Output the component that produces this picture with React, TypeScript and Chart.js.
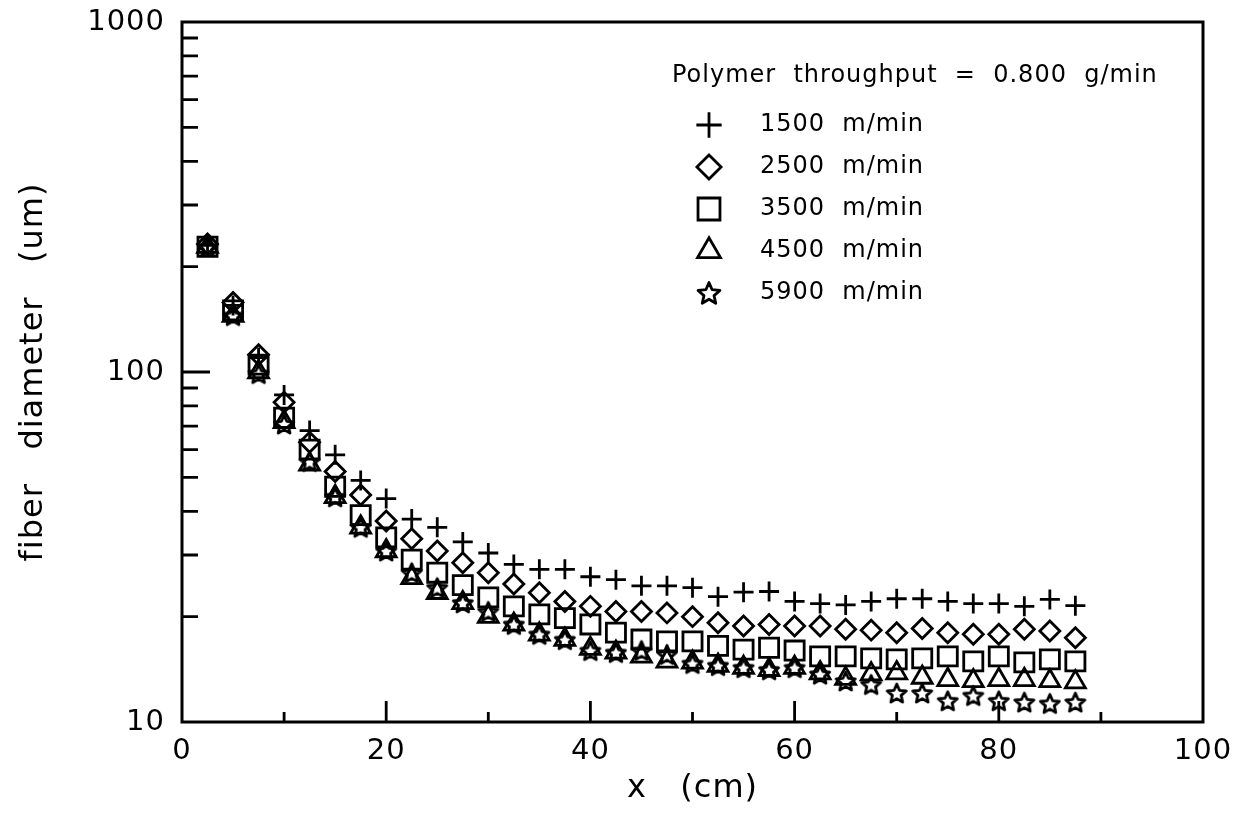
import React, { useEffect, useRef } from 'react';
import { Chart, registerables } from 'chart.js';

Chart.register(...registerables);

const xPositions = [2.5, 5, 7.5, 10, 12.5, 15, 17.5, 20, 22.5, 25, 27.5, 30, 32.5, 35, 37.5, 40, 42.5, 45, 47.5, 50, 52.5, 55, 57.5, 60, 62.5, 65, 67.5, 70, 72.5, 75, 77.5, 80, 82.5, 85, 87.5];

const d1500 = [230, 155, 110, 86, 68, 58, 49, 43.5, 38, 36, 32.7, 30.4, 28.2, 27.3, 27.3, 26, 25.5, 24.5, 24.5, 24.2, 22.8, 23.5, 23.6, 22.1, 21.8, 21.6, 22.1, 22.5, 22.5, 22.1, 21.8, 21.8, 21.4, 22.4, 21.5];
const d2500 = [232, 158, 112, 82, 63, 52, 44.5, 37.5, 33.4, 30.8, 28.5, 26.7, 24.8, 23.4, 22.1, 21.4, 20.7, 20.7, 20.5, 20, 19.2, 18.8, 19, 18.8, 18.8, 18.4, 18.3, 18.0, 18.5, 18.0, 17.8, 17.8, 18.4, 18.2, 17.4];
const d3500 = [228, 150, 105, 74, 60, 47, 39, 33.7, 29.1, 26.7, 24.6, 22.7, 21.4, 20.3, 19.8, 19, 18, 17.2, 17.0, 17.0, 16.5, 16.1, 16.3, 16.0, 15.4, 15.4, 15.2, 15.1, 15.2, 15.4, 14.9, 15.4, 14.8, 15.1, 14.9];
const d4500 = [228, 145, 100, 72, 54.5, 44, 36, 30.8, 25.8, 23.4, 21.9, 20, 19, 17.8, 17.2, 16.2, 15.8, 15.4, 14.9, 14.8, 14.5, 14.3, 14.1, 14.3, 13.8, 13.3, 13.7, 13.8, 13.4, 13.2, 13.1, 13.2, 13.2, 13.1, 13.0];
const d5900 = [228, 145, 99, 71, 55.5, 44, 36, 30.8, 26.7, 24.2, 21.9, 20.7, 19, 17.8, 17.2, 16, 15.8, 16, 15.6, 14.7, 14.5, 14.3, 14.1, 14.3, 13.7, 13.1, 12.8, 12.1, 12.1, 11.5, 11.9, 11.5, 11.4, 11.3, 11.4];

const seriesLabels = ['1500  m/min', '2500  m/min', '3500  m/min', '4500  m/min', '5900  m/min'];
const seriesStyles = ['cross', 'rectRot', 'rect', 'triangle', 'star'];
const legendTitle = 'Polymer  throughput  =  0.800  g/min';
const yTickValues = [10, 100, 1000];
const xTitle = 'x   (cm)';
const yTitle = 'fiber   diameter   (um)';

const FONT = 'DejaVu Sans';

function makeStar(scale: number): HTMLCanvasElement {
  const outer = 10 * scale;
  const inner = 4.6 * scale;
  const size = Math.ceil(26 * scale);
  const c = document.createElement('canvas');
  c.width = size;
  c.height = size;
  const ctx = c.getContext('2d')!;
  const cx = size / 2;
  const cy = size / 2 + 1;
  ctx.beginPath();
  for (let i = 0; i < 10; i++) {
    const r = i % 2 === 0 ? outer : inner;
    const a = -Math.PI / 2 + (i * Math.PI) / 5;
    const px = cx + r * Math.cos(a);
    const py = cy + r * Math.sin(a);
    if (i === 0) ctx.moveTo(px, py);
    else ctx.lineTo(px, py);
  }
  ctx.closePath();
  ctx.lineWidth = 2.8;
  ctx.lineJoin = 'round';
  ctx.strokeStyle = '#000';
  ctx.stroke();
  return c;
}

function drawSymbol(ctx: CanvasRenderingContext2D, kind: string, cx: number, cy: number, star: HTMLCanvasElement) {
  const s = 1.15;
  ctx.save();
  ctx.strokeStyle = '#000';
  ctx.lineWidth = 2.8;
  ctx.beginPath();
  if (kind === 'cross') {
    ctx.moveTo(cx - 11 * s, cy);
    ctx.lineTo(cx + 11 * s, cy);
    ctx.moveTo(cx, cy - 11 * s);
    ctx.lineTo(cx, cy + 11 * s);
    ctx.stroke();
  } else if (kind === 'rectRot') {
    const r = 10.5 * s;
    ctx.moveTo(cx, cy - r);
    ctx.lineTo(cx + r, cy);
    ctx.lineTo(cx, cy + r);
    ctx.lineTo(cx - r, cy);
    ctx.closePath();
    ctx.stroke();
  } else if (kind === 'rect') {
    const h = 13.5 * s * Math.SQRT1_2;
    ctx.rect(cx - h, cy - h, 2 * h, 2 * h);
    ctx.stroke();
  } else if (kind === 'triangle') {
    const r = 11.5 * s;
    for (let i = 0; i < 3; i++) {
      const a = (i * 2 * Math.PI) / 3;
      const px = cx + Math.sin(a) * r;
      const py = cy - Math.cos(a) * r;
      if (i === 0) ctx.moveTo(px, py);
      else ctx.lineTo(px, py);
    }
    ctx.closePath();
    ctx.stroke();
  } else {
    ctx.drawImage(star, cx - star.width / 2, cy - star.height / 2);
  }
  ctx.restore();
}

export default function App() {
  const ref = useRef<HTMLCanvasElement>(null);

  useEffect(() => {
    document.body.style.margin = '0';
    const star = makeStar(1);
    const legendStar = makeStar(1.15);
    const seriesData = [d1500, d2500, d3500, d4500, d5900];
    const radii = [10, 10, 13.5, 11.5, 10];

    const framePlugin = {
      id: 'frameTicksLegend',
      beforeDraw(chart: any) {
        (chart.ctx as any).letterSpacing = '1px';
      },
      afterDraw(chart: any) {
        const { ctx, chartArea, scales } = chart;
        const { left, right, top, bottom } = chartArea;
        const x = scales.x;
        const y = scales.y;
        ctx.save();
        ctx.strokeStyle = '#000';
        ctx.lineWidth = 3;
        ctx.strokeRect(left, top, right - left, bottom - top);
        ctx.lineWidth = 2.8;
        ctx.beginPath();
        [10, 100].forEach((dec) => {
          for (let m = 1; m <= 9; m++) {
            if (dec === 10 && m === 1) continue;
            const py = y.getPixelForValue(dec * m);
            const len = m === 1 ? 28 : 16;
            ctx.moveTo(left, py);
            ctx.lineTo(left + len, py);
          }
        });
        for (let v = 10; v < 100; v += 10) {
          const px = x.getPixelForValue(v);
          const len = v % 20 === 0 ? 21 : 10;
          ctx.moveTo(px, bottom);
          ctx.lineTo(px, bottom - len);
        }
        ctx.stroke();

        // legend
        ctx.fillStyle = '#000';
        ctx.font = `24px "${FONT}"`;
        (ctx as any).letterSpacing = '1px';
        ctx.textBaseline = 'middle';
        ctx.textAlign = 'left';
        ctx.fillText(legendTitle, 672, 76);
        seriesLabels.forEach((lab, i) => {
          const cy = 125 + i * 42;
          drawSymbol(ctx, seriesStyles[i], 709, cy, legendStar);
          ctx.fillText(lab, 760, cy);
        });
        ctx.restore();
      },
    };

    const chart = new Chart(ref.current!, {
      type: 'scatter',
      data: {
        datasets: seriesData.map((arr, i) => ({
          label: seriesLabels[i],
          data: arr.map((v, j) => ({ x: xPositions[j], y: v })),
          pointStyle: (seriesStyles[i] === 'star' ? star : seriesStyles[i]) as any,
          pointRadius: radii[i],
          pointHoverRadius: radii[i],
          borderColor: '#000',
          backgroundColor: 'rgba(0,0,0,0)',
          borderWidth: 2.8,
          showLine: false,
        })),
      },
      options: {
        responsive: false,
        animation: false,
        events: [],
        layout: { padding: { left: 0, right: 45, top: 22, bottom: 0 } },
        plugins: {
          legend: { display: false },
          tooltip: { enabled: false },
        },
        scales: {
          x: {
            type: 'linear',
            min: 0,
            max: 100,
            afterFit: (s: any) => {
              s.height = 96;
              s.paddingLeft = 0;
              s.paddingRight = 0;
            },
            grid: { display: false, drawTicks: false },
            border: { display: false },
            ticks: {
              stepSize: 20,
              padding: 12,
              color: '#000',
              maxRotation: 0,
              font: { family: FONT, size: 29 },
            },
            title: {
              display: true,
              text: xTitle,
              color: '#000',
              font: { family: FONT, size: 32 },
              padding: { top: 0, bottom: 10 },
            },
          },
          y: {
            type: 'logarithmic',
            min: 10,
            max: 1000,
            afterBuildTicks: (s: any) => {
              s.ticks = yTickValues.map((v) => ({ value: v }));
            },
            afterFit: (s: any) => {
              s.width = 182;
              s.paddingTop = 0;
              s.paddingBottom = 0;
            },
            grid: { display: false, drawTicks: false },
            border: { display: false },
            ticks: {
              padding: 17,
              color: '#000',
              autoSkip: false,
              font: { family: FONT, size: 29 },
              callback: (v: any) => String(v),
            },
            title: {
              display: true,
              text: yTitle,
              color: '#000',
              font: { family: FONT, size: 32 },
              padding: { top: 14, bottom: 0 },
            },
          },
        },
      },
      plugins: [framePlugin],
    } as any);

    return () => chart.destroy();
  }, []);

  return <canvas ref={ref} width={1248} height={818} style={{ display: 'block' }} />;
}
